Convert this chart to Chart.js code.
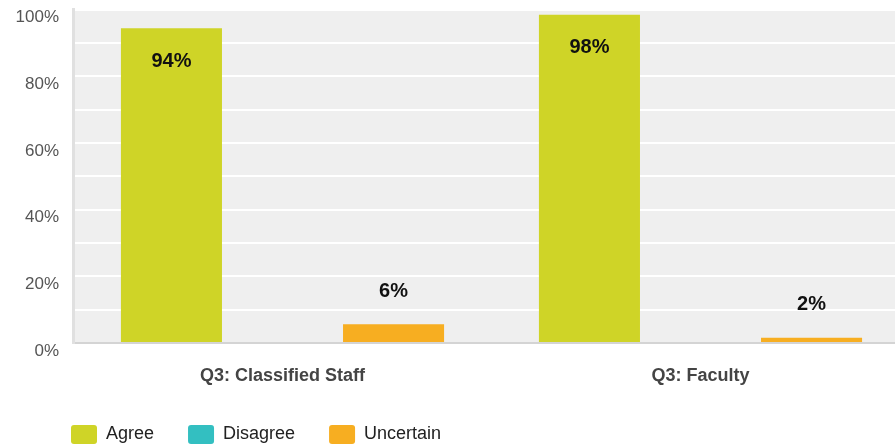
<!DOCTYPE html>
<html>
<head>
<meta charset="utf-8">
<script src="https://cdn.jsdelivr.net/npm/chart.js@4/dist/chart.umd.min.js"></script>
<style>
  html, body { margin: 0; padding: 0; background: #ffffff; overflow: hidden; width: 895px; height: 448px; }
  #wrap { position: absolute; left: 0; top: 0; width: 912px; height: 454px; }
</style>
</head>
<body>
<div id="wrap"><canvas id="c" width="912" height="454"></canvas></div>
<script>
// ---- data ----
const categories = ["Q3: Classified Staff", "Q3: Faculty"];
const seriesNames = ["Agree", "Disagree", "Uncertain"];
const agreeValues = [94.4, 98.4];
const disagreeValues = [0, 0];
const uncertainValues = [5.6, 1.6];
const yTickValues = [0, 20, 40, 60, 80, 100];

const colors = ["#cfd427", "#33bfc1", "#f7ae21"];

Chart.defaults.font.family = "'Liberation Sans', Arial, Helvetica, sans-serif";

const plotBg = {
  id: 'plotBg',
  beforeDraw(chart) {
    const a = chart.chartArea, ctx = chart.ctx;
    ctx.save();
    ctx.fillStyle = '#efefef';
    ctx.fillRect(a.left, a.top, a.right - a.left, a.bottom - a.top);
    ctx.restore();
  }
};

// shift the bottom legend so that it starts near the plot's left edge
const legendShift = {
  id: 'legendShift',
  afterLayout(chart) {
    const lg = chart.legend;
    if (lg) { lg.left += 37; }
  }
};

const valueLabels = {
  id: 'valueLabels',
  afterDatasetsDraw(chart) {
    const ctx = chart.ctx;
    ctx.save();
    ctx.font = "bold 20px 'Liberation Sans', Arial, Helvetica, sans-serif";
    ctx.fillStyle = '#111';
    ctx.textAlign = 'center';
    ctx.textBaseline = 'middle';
    chart.data.datasets.forEach((ds, di) => {
      const meta = chart.getDatasetMeta(di);
      meta.data.forEach((bar, i) => {
        const v = ds.data[i];
        if (!v) return;
        const h = bar.base - bar.y;
        const y = h > 70 ? bar.y + 33 : bar.y - 33;
        ctx.fillText(Math.round(v) + '%', bar.x, y);
      });
    });
    ctx.restore();
  }
};

new Chart(document.getElementById('c'), {
  type: 'bar',
  data: {
    labels: categories,
    datasets: [
      { label: seriesNames[0], data: agreeValues, backgroundColor: colors[0] },
      { label: seriesNames[1], data: disagreeValues, backgroundColor: colors[1] },
      { label: seriesNames[2], data: uncertainValues, backgroundColor: colors[2] }
    ]
  },
  options: {
    responsive: false,
    animation: false,
    devicePixelRatio: 1,
    categoryPercentage: 0.797,
    barPercentage: 0.91,
    layout: { padding: { left: 0, right: 2.5, top: 9.5, bottom: 0 } },
    plugins: {
      tooltip: { enabled: false },
      legend: {
        position: 'bottom',
        align: 'start',
        labels: {
          boxWidth: 26,
          boxHeight: 19,
          useBorderRadius: true,
          borderRadius: 3,
          padding: 34,
          color: '#222',
          font: { size: 18 }
        }
      }
    },
    scales: {
      x: {
        grid: { display: false, drawTicks: false },
        border: { color: '#d4d4d4', width: 2 },
        ticks: { color: '#444', padding: 22, font: { size: 18, weight: 'bold' } },
        afterFit(scale) { scale.height = 48; scale.paddingLeft = 0; scale.paddingRight = 0; }
      },
      y: {
        min: 0,
        max: 100,
        grid: { color: '#ffffff', lineWidth: 2, drawTicks: false },
        border: { color: '#e0e0e0', width: 3 },
        ticks: {
          stepSize: 10,
          autoSkip: false,
          padding: 14.5,
          labelOffset: 8,
          color: '#555',
          font: { size: 17 },
          callback: (v) => yTickValues.includes(v) ? v + '%' : ''
        },
        afterFit(scale) { scale.width = 73.5; scale.paddingTop = 0; scale.paddingBottom = 0; }
      }
    }
  },
  plugins: [plotBg, legendShift, valueLabels]
});
</script>
</body>
</html>
